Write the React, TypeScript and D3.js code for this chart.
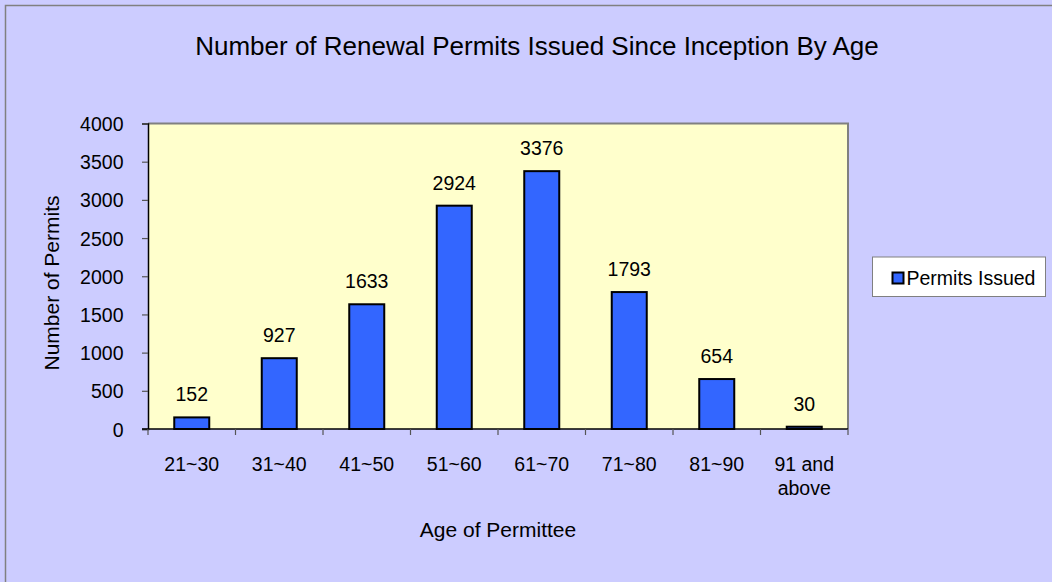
import React, { useEffect, useRef } from "react";
import * as d3 from "d3";

const ageGroups = ["21~30", "31~40", "41~50", "51~60", "61~70", "71~80", "81~90", "91 and|above"];
const permitsIssued = [152, 927, 1633, 2924, 3376, 1793, 654, 30];
const yTicks = [0, 500, 1000, 1500, 2000, 2500, 3000, 3500, 4000];

const chartTitle = "Number of Renewal Permits Issued Since Inception By Age";
const yTitle = "Number of Permits";
const xTitle = "Age of Permittee";
const seriesName = "Permits Issued";

function App() {
    const svgRef = useRef(null);

    useEffect(() => {
        const width = 1052;
        const height = 582;
        const plotLeft = 148;
        const plotRight = 848;
        const plotTop = 123.5;
        const plotBottom = 429;
        const font = "'Liberation Sans', Arial, sans-serif";
        const fs = 19.5;
        const titleFs = 21;

        const svg = d3.select(svgRef.current);
        svg.selectAll("*").remove();

        // chart area background + border
        svg.append("rect")
            .attr("x", 0).attr("y", 0)
            .attr("width", width).attr("height", height)
            .attr("fill", "#CCCCFF");
        svg.append("rect")
            .attr("x", 5.5).attr("y", 5.5)
            .attr("width", width + 20).attr("height", height + 20)
            .attr("fill", "none")
            .attr("stroke", "#808080")
            .attr("stroke-width", 1.5);

        svg.append("text")
            .attr("x", 537).attr("y", 54.5)
            .attr("text-anchor", "middle")
            .attr("font-family", font)
            .attr("font-size", 26)
            .attr("fill", "#000")
            .text(chartTitle);

        const x = d3.scaleBand()
            .domain(ageGroups)
            .range([plotLeft, plotRight])
            .paddingInner(0.6)
            .paddingOuter(0.3);

        const y = d3.scaleLinear()
            .domain([0, 4000])
            .range([plotBottom, plotTop]);

        // plot area
        svg.append("rect")
            .attr("x", plotLeft).attr("y", plotTop)
            .attr("width", plotRight - plotLeft)
            .attr("height", plotBottom - plotTop)
            .attr("fill", "#FFFFCC");
        svg.append("path")
            .attr("d", `M${plotLeft},${plotTop}H${plotRight}V${plotBottom}`)
            .attr("fill", "none")
            .attr("stroke", "#808080")
            .attr("stroke-width", 2);

        // bars
        svg.append("g")
            .selectAll("rect")
            .data(permitsIssued)
            .join("rect")
            .attr("x", (d, i) => x(ageGroups[i]))
            .attr("y", (d) => y(d))
            .attr("width", x.bandwidth())
            .attr("height", (d) => y(0) - y(d))
            .attr("fill", "#3366FF")
            .attr("stroke", "#000")
            .attr("stroke-width", 2);

        // value labels
        svg.append("g")
            .selectAll("text")
            .data(permitsIssued)
            .join("text")
            .attr("x", (d, i) => x(ageGroups[i]) + x.bandwidth() / 2)
            .attr("y", (d) => y(d) - 16)
            .attr("text-anchor", "middle")
            .attr("font-family", font)
            .attr("font-size", fs)
            .attr("fill", "#000")
            .text((d) => d);

        // y axis
        const yAxis = svg.append("g")
            .attr("transform", `translate(${plotLeft},0)`)
            .call(
                d3.axisLeft(y)
                    .tickValues(yTicks)
                    .tickFormat(d3.format("d"))
                    .tickSize(6)
                    .tickPadding(18.5)
            );
        yAxis.select(".domain").attr("stroke", "#000").attr("stroke-width", 1.5);
        yAxis.selectAll(".tick line").attr("stroke", "#555").attr("stroke-width", 1.2);
        yAxis.selectAll(".tick text")
            .attr("font-family", font)
            .attr("font-size", fs)
            .attr("fill", "#000")
            .attr("dy", "0.36em");

        // x axis: ticks on category boundaries
        const bounds = d3.range(ageGroups.length + 1).map((i) => plotLeft + i * x.step());
        const xg = svg.append("g");
        xg.append("line")
            .attr("x1", plotLeft - 6).attr("x2", plotRight)
            .attr("y1", plotBottom).attr("y2", plotBottom)
            .attr("stroke", "#000").attr("stroke-width", 1.5);
        xg.selectAll(".xtick")
            .data(bounds)
            .join("line")
            .attr("x1", (d) => d).attr("x2", (d) => d)
            .attr("y1", plotBottom).attr("y2", plotBottom + 6)
            .attr("stroke", "#555").attr("stroke-width", 1.2);

        const catText = xg.selectAll(".cat")
            .data(ageGroups)
            .join("text")
            .attr("x", (d) => x(d) + x.bandwidth() / 2)
            .attr("y", 471)
            .attr("text-anchor", "middle")
            .attr("font-family", font)
            .attr("font-size", fs)
            .attr("fill", "#000");
        catText.each(function (d) {
            const lines = d.split("|");
            const t = d3.select(this);
            lines.forEach((line, j) => {
                t.append("tspan")
                    .attr("x", x(d) + x.bandwidth() / 2)
                    .attr("dy", j === 0 ? 0 : 24)
                    .text(line);
            });
        });

        // axis titles
        svg.append("text")
            .attr("x", (plotLeft + plotRight) / 2)
            .attr("y", 537)
            .attr("text-anchor", "middle")
            .attr("font-family", font)
            .attr("font-size", titleFs)
            .attr("fill", "#000")
            .text(xTitle);

        svg.append("text")
            .attr("transform", `translate(59,283) rotate(-90)`)
            .attr("text-anchor", "middle")
            .attr("font-family", font)
            .attr("font-size", titleFs)
            .attr("fill", "#000")
            .text(yTitle);

        // legend
        const legend = svg.append("g");
        legend.append("rect")
            .attr("x", 872.5).attr("y", 257)
            .attr("width", 173).attr("height", 39.5)
            .attr("fill", "#fff")
            .attr("stroke", "#808080")
            .attr("stroke-width", 1);
        legend.append("rect")
            .attr("x", 892.5).attr("y", 272.5)
            .attr("width", 11).attr("height", 11)
            .attr("fill", "#3366FF")
            .attr("stroke", "#000")
            .attr("stroke-width", 2);
        legend.append("text")
            .attr("x", 906.5).attr("y", 284.5)
            .attr("font-family", font)
            .attr("font-size", fs)
            .attr("fill", "#000")
            .text(seriesName);
    }, []);

    return (
        <svg
            ref={svgRef}
            width={1052}
            height={582}
            viewBox="0 0 1052 582"
            style={{ position: "absolute", left: 0, top: 0, display: "block" }}
        />
    );
}

export default App;
